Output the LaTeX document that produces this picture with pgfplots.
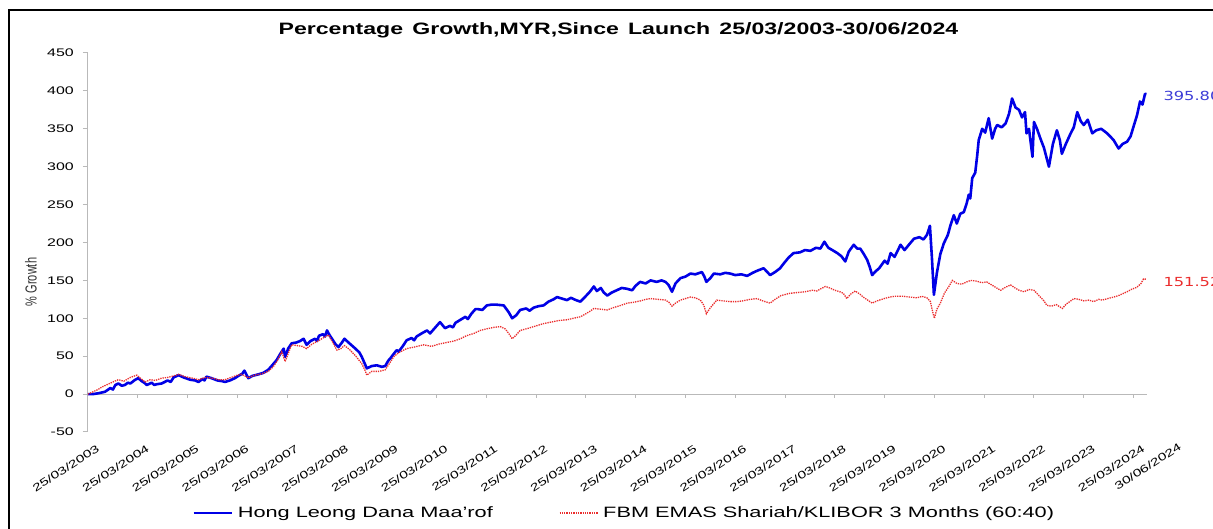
\documentclass[border=0pt]{standalone}
\usepackage{fontspec}
\setmainfont{Liberation Sans}[FakeStretch=1.45]
\newfontfamily\titlefont{Liberation Sans}[FakeStretch=1.4]
\newfontfamily\plainfont{Liberation Sans}
\newfontfamily\valfont{DejaVu Sans}[FakeStretch=1.3]
\usepackage{pgfplots}
\usepackage{pgfplotstable}
\pgfplotsset{compat=1.18}

\definecolor{fundblue}{RGB}{0,0,230}
\definecolor{benchred}{RGB}{235,45,45}
\definecolor{axisgray}{RGB}{185,185,185}
\definecolor{valblue}{RGB}{60,60,215}

% t = years since launch (25/03/2003), v = % growth
\pgfplotstableread{
t v
0 0
0.1 0
0.2 1
0.34 3
0.45 8
0.5 6
0.55 12
0.61 14
0.68 11
0.74 12
0.8 15
0.85 14
0.95 19
1.01 21
1.08 17
1.13 15
1.18 12
1.28 15
1.33 12
1.38 13
1.48 14
1.6 18
1.66 16
1.72 22
1.82 25
1.92 22
2.05 19
2.15 18
2.22 16
2.3 20
2.34 18
2.38 23
2.48 21
2.6 18
2.7 17
2.75 16
2.85 18
2.95 21
3.02 24
3.1 27
3.14 31
3.18 26
3.22 21
3.3 24
3.42 26
3.52 28
3.62 32
3.7 38
3.79 45
3.87 54
3.93 60
3.96 49
4.02 60
4.09 67
4.18 68
4.26 70
4.33 73
4.39 65
4.47 70
4.56 73
4.6 70
4.64 77
4.72 79
4.76 76
4.8 84
4.85 78
4.9 73
4.97 66
5.03 62
5.1 68
5.15 73
5.25 67
5.37 60
5.45 55
5.5 49
5.56 40
5.6 34
5.7 37
5.8 38
5.9 36
5.97 37
6.03 44
6.07 47
6.14 53
6.2 58
6.24 56
6.32 63
6.4 71
6.5 74
6.55 71
6.6 76
6.7 80
6.81 84
6.87 80
6.95 86
7.07 95
7.17 87
7.27 90
7.33 88
7.38 94
7.48 98
7.58 102
7.63 99
7.7 106
7.78 112
7.84 112
7.92 111
8.01 117
8.1 118
8.2 118
8.35 117
8.45 108
8.52 100
8.6 104
8.68 111
8.8 113
8.87 110
8.95 114
9.05 116
9.15 117
9.25 122
9.35 125
9.42 128
9.52 126
9.62 124
9.7 127
9.8 124
9.89 122
9.98 128
10.08 135
10.16 142
10.22 136
10.3 140
10.36 134
10.43 130
10.52 134
10.62 137
10.72 140
10.82 139
10.93 137
11.0 143
11.09 148
11.2 146
11.3 150
11.42 148
11.52 150
11.6 148
11.66 144
11.73 135
11.8 146
11.9 153
12.0 155
12.1 159
12.2 158
12.33 161
12.38 155
12.42 148
12.5 153
12.57 159
12.7 158
12.8 160
12.9 159
13.0 157
13.12 158
13.24 156
13.35 160
13.45 163
13.57 166
13.63 162
13.7 157
13.8 161
13.9 166
13.97 172
14.07 180
14.17 186
14.3 187
14.4 190
14.51 189
14.62 193
14.71 192
14.79 201
14.87 193
14.95 190
15.05 186
15.13 182
15.21 175
15.28 188
15.38 197
15.45 192
15.51 192
15.58 185
15.65 177
15.7 168
15.75 157
15.82 162
15.89 166
16.0 176
16.06 172
16.12 186
16.2 181
16.32 197
16.4 190
16.5 198
16.59 205
16.7 207
16.78 204
16.85 210
16.91 222
16.95 180
16.99 131
17.05 160
17.12 185
17.19 199
17.27 210
17.32 222
17.39 236
17.45 225
17.52 238
17.59 240
17.65 252
17.69 263
17.72 258
17.76 285
17.82 292
17.86 315
17.89 335
17.96 350
18.02 345
18.09 364
18.16 337
18.22 350
18.26 355
18.35 352
18.43 357
18.5 370
18.56 390
18.63 378
18.7 375
18.76 365
18.82 372
18.85 344
18.9 350
18.97 313
19.0 359
19.06 350
19.13 337
19.2 325
19.3 300
19.38 330
19.46 348
19.52 335
19.56 317
19.64 330
19.73 343
19.8 352
19.87 372
19.94 360
20.0 355
20.08 362
20.17 344
20.25 348
20.35 350
20.47 344
20.53 340
20.6 335
20.7 324
20.78 330
20.87 333
20.94 340
21.0 353
21.07 368
21.13 386
21.18 382
21.23 396
21.26 395.8
}\fund

\pgfplotstableread{
t v
0 0
0.1 3
0.2 6
0.27 9
0.4 13
0.5 16
0.61 19
0.72 17
0.85 22
0.98 25
1.05 21
1.15 16
1.25 19
1.35 18
1.48 21
1.6 22
1.72 24
1.82 26
1.95 23
2.1 21
2.22 19
2.35 22
2.5 21
2.62 19
2.75 19
2.88 22
3.0 25
3.08 26
3.15 24
3.22 21.5
3.35 25
3.5 27
3.62 30
3.72 36
3.8 44
3.89 56
3.96 43
4.03 55
4.09 65
4.2 64
4.3 63
4.39 60
4.5 66
4.62 70
4.72 74
4.83 78
4.9 70
5.0 58
5.08 60
5.15 64
5.25 59
5.38 50
5.5 40
5.56 32
5.6 25
5.7 30
5.85 30
5.97 32
6.05 40
6.15 50
6.25 55
6.4 60
6.55 62
6.74 65
6.9 63
7.05 66
7.2 68
7.35 70
7.48 73
7.6 77
7.75 80
7.88 84
8.0 86
8.15 88
8.28 89
8.38 86
8.45 80
8.52 73
8.6 78
8.68 84
8.8 86
8.95 89
9.05 91
9.15 93
9.3 95
9.45 97
9.62 98
9.75 100
9.89 102
10.0 106
10.1 110
10.16 113
10.3 112
10.43 111
10.55 114
10.7 117
10.83 120
10.95 121
11.1 123
11.2 125
11.3 126
11.45 125
11.6 124
11.67 121
11.73 116
11.8 120
11.9 124
12.0 126
12.1 128
12.2 127
12.3 124
12.37 117
12.42 106
12.5 114
12.63 124
12.75 123
12.9 122
13.03 122
13.15 123
13.3 125
13.44 126
13.55 123
13.7 120
13.8 125
13.92 130
14.1 133
14.25 134
14.4 135
14.55 137
14.64 136
14.72 139
14.81 142
14.9 140
15.0 137
15.1 135
15.17 133
15.24 126
15.32 132
15.41 136
15.5 132
15.57 128
15.66 124
15.75 120
15.85 123
15.99 126
16.1 128
16.2 129
16.38 129
16.5 128
16.65 127
16.75 129
16.85 127
16.92 122
16.96 110
17.0 100
17.05 112
17.12 120
17.2 133
17.3 143
17.36 150
17.45 146
17.55 145
17.65 148
17.73 150
17.85 149
17.95 147
18.05 148
18.15 144
18.25 140
18.33 137
18.43 141
18.53 144
18.62 140
18.7 137
18.8 135
18.9 138
19.0 137
19.1 130
19.2 123
19.26 117
19.35 116
19.45 118
19.57 113
19.65 119
19.72 122
19.8 126
19.9 125
20.0 123
20.1 124
20.2 122
20.3 125
20.37 124
20.48 126
20.6 128
20.7 130
20.8 133
20.87 135
20.95 138
21.07 141
21.15 146
21.2 152
21.26 151.52
}\bench

\begin{document}
\begin{tikzpicture}
\useasboundingbox (0,0) rectangle (1213pt,529pt);
\fill[white] (0,0) rectangle (1213pt,529pt);
% outer frame of the chart area (cut off at right and bottom)
\draw[black, line width=2pt] (9pt,-10pt) -- (9pt,518.5pt) -- (1230pt,518.5pt);

\node[font=\titlefont\bfseries\fontsize{16.5}{19}\selectfont] at (618.5pt,499pt)
  {Percentage\, Growth,MYR,Since\, Launch\, 25/03/2003-30/06/2024};

\node[rotate=90, text=black!80] at (31pt,247pt)
  {\scalebox{1}[1.45]{\plainfont\fontsize{11}{13}\selectfont\% Growth}};

\begin{axis}[
    at={(88pt,97pt)}, anchor=south west,
    scale only axis, width=1059pt, height=379pt,
    xmin=0, xmax=21.27, ymin=-50, ymax=450,
    axis lines*=left,
    x axis line style={draw=none},
    y axis line style={axisgray, line width=1pt},
    ytick={-50,0,...,450},
    xtick={0,...,21},
    xticklabels={25/03/2003,25/03/2004,25/03/2005,25/03/2006,25/03/2007,
      25/03/2008,25/03/2009,25/03/2010,25/03/2011,25/03/2012,25/03/2013,
      25/03/2014,25/03/2015,25/03/2016,25/03/2017,25/03/2018,25/03/2019,
      25/03/2020,25/03/2021,25/03/2022,25/03/2023,25/03/2024},
    major x tick style={draw=none},
    major y tick style={axisgray, line width=1pt},
    tick align=outside, major tick length=5pt,
    /pgf/number format/assume math mode=true,
    yticklabel style={font=\fontsize{11}{13}\selectfont, anchor=east,
      inner sep=0pt, xshift=-9pt},
    xticklabel style={font=\fontsize{10.6}{12}\selectfont, rotate=33,
      anchor=north east, inner sep=0pt, xshift=3pt, yshift=-10pt},
    legend style={at={(axis description cs:0.0982,-0.2137)}, anchor=west,
      draw=none, fill=none, inner sep=0pt, legend columns=2,
      font=\fontsize{15}{18}\selectfont,
      nodes={inner sep=0pt, anchor=west},
      /tikz/every odd column/.append style={column sep=5pt},
      /tikz/every even column/.append style={column sep=66pt}},
    legend image code/.code={\draw[#1] (0pt,0pt) -- (38pt,0pt);},
]
\draw[axisgray, line width=1pt] (axis cs:0,0) -- (axis cs:21.27,0);
\pgfplotsinvokeforeach{1,...,21}{
  \draw[axisgray, line width=1pt] (axis cs:#1,0) -- ++(0pt,-4pt);
}
\addplot[fundblue, line width=2.6pt, line join=round] table[x=t,y=v] {\fund};
\addlegendentry{Hong Leong Dana Maa'rof}
\addplot[benchred, line width=1.3pt, densely dotted] table[x=t,y=v] {\bench};
\addlegendentry{FBM EMAS Shariah/KLIBOR 3 Months (60:40)}
\end{axis}

% last date label sits one step beyond the 2024 tick
\node[font=\fontsize{10.6}{12}\selectfont, rotate=33, anchor=north east,
  inner sep=0pt] at (1178pt,87pt) {30/06/2024};

\node[anchor=west, text=valblue, font=\valfont\fontsize{12.5}{15}\selectfont]
  at (1160pt,433pt) {395.80};
\node[anchor=west, text=benchred, font=\valfont\fontsize{12.5}{15}\selectfont]
  at (1160pt,247pt) {151.52};
\end{tikzpicture}
\end{document}
